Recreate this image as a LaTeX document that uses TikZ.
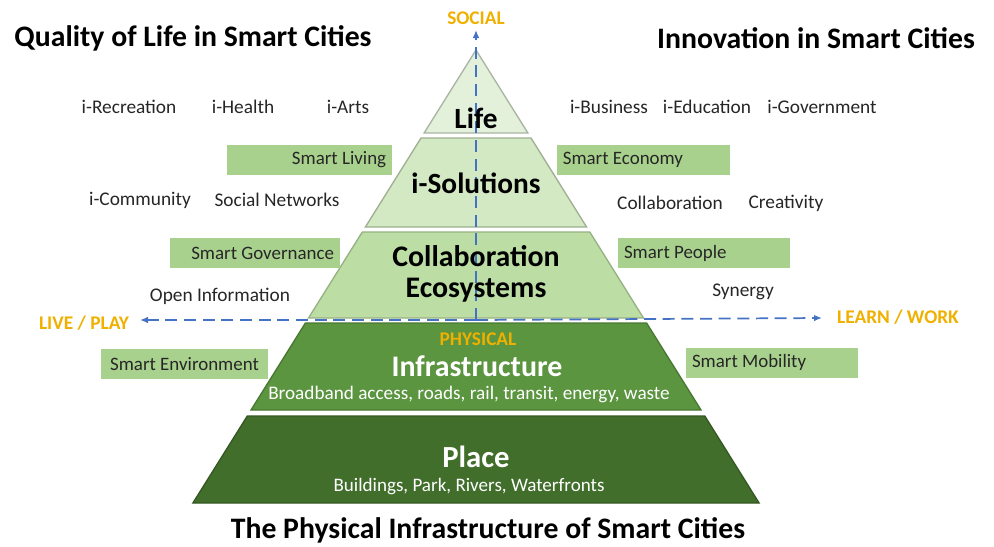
\documentclass[tikz,border=0pt]{standalone}
\usepackage{fontspec}
\setmainfont{Carlito}
\usetikzlibrary{arrows.meta}

\definecolor{lifegreen}{HTML}{E3F0DA}
\definecolor{solgreen}{HTML}{D3E9C3}
\definecolor{colgreen}{HTML}{BCDDA3}
\definecolor{infgreen}{HTML}{5B9540}
\definecolor{placegreen}{HTML}{426E2C}
\definecolor{boxgreen}{HTML}{A9D18E}
\definecolor{axisblue}{HTML}{4472C4}
\definecolor{dimyellow}{HTML}{EFB000}

\tikzset{
  sidebox/.style={fill=boxgreen, minimum height=22.5pt, inner xsep=4.5pt, inner ysep=0pt,
    font=\fontsize{14.2}{16}\selectfont, text=black!85},
  plain/.style={font=\fontsize{14.5}{16}\selectfont, text=black!85},
  heading/.style={font=\bfseries\fontsize{22.3}{26}\selectfont},
  dimlabel/.style={font=\bfseries\fontsize{14.5}{16}\selectfont, text=dimyellow},
  axis/.style={draw=axisblue, line width=1.3pt, dash pattern=on 9pt off 5pt,
    -{Latex[length=6pt,width=5pt]}}
}

\begin{document}
\begin{tikzpicture}[x=0.75pt,y=-0.75pt]
\useasboundingbox (0,0) rectangle (994,546);

% pyramid layers
\filldraw[fill=lifegreen,draw=black!25!lifegreen,line width=1pt] (476,50) -- (527.9,133) -- (424.1,133) -- cycle;
\filldraw[fill=solgreen,draw=black!25!solgreen,line width=1pt] (421.0,138) -- (531.0,138) -- (586.6,227) -- (365.4,227) -- cycle;
\filldraw[fill=colgreen,draw=black!20!colgreen,line width=1pt] (362.3,232) -- (589.8,232) -- (643.5,318) -- (308.5,318) -- cycle;
\filldraw[fill=infgreen,draw=black!20!infgreen,line width=1pt] (305.4,323) -- (646.6,323) -- (701.0,410) -- (251.0,410) -- cycle;
\filldraw[fill=placegreen,draw=black!20!placegreen,line width=1pt] (247.3,416) -- (704.8,416) -- (759.1,503) -- (192.9,503) -- cycle;

% axes
\coordinate (origin) at (476,320);
\coordinate (socialEnd) at (476,30);
\coordinate (liveEnd) at (140,320);
\coordinate (learnEnd) at (822,318);
\draw[axis] (origin) -- (socialEnd);
\draw[axis] (origin) -- (liveEnd);
\draw[axis] (origin) -- (learnEnd);

\node[dimlabel] (social) at (476,18) {SOCIAL};
\node[dimlabel] (live) at (84,323) {LIVE / PLAY};
\node[dimlabel] (learn) at (898,317) {LEARN / WORK};
\node[dimlabel] (physical) at (478,339) {PHYSICAL};

% layer texts
\node[font=\bfseries\fontsize{22}{24}\selectfont] (life) at (476,118) {Life};
\node[font=\bfseries\fontsize{22}{24}\selectfont] (isol) at (476,183) {i-Solutions};
\node[font=\bfseries\fontsize{22.4}{24}\selectfont, align=center] (collab) at (476,274) {Collaboration\\[-1pt]Ecosystems};
\node[font=\bfseries\fontsize{22.4}{26}\selectfont, text=white] (infra) at (477,366) {Infrastructure};
\node[font=\fontsize{14.4}{16}\selectfont, text=white] (infraSub) at (469,394) {Broadband access, roads, rail, transit, energy, waste};
\node[font=\bfseries\fontsize{23}{26}\selectfont, text=white] (place) at (476,457) {Place};
\node[font=\fontsize{14.3}{16}\selectfont, text=white] (placeSub) at (469,487) {Buildings, Park, Rivers, Waterfronts};

% headings
\node[heading] (quality) at (193,38) {Quality of Life in Smart Cities};
\node[heading] (innovation) at (816,38) {Innovation in Smart Cities};
\node[heading] (physinfra) at (488,530) {The Physical Infrastructure of Smart Cities};

% left side
\node[plain] (recreation) at (129,107) {i-Recreation};
\node[plain] (health) at (243,107) {i-Health};
\node[plain] (arts) at (348,107) {i-Arts};
\node[plain] (community) at (140,200) {i-Community};
\node[plain] (networks) at (277,200) {Social Networks};
\node[plain] (openinfo) at (220,296) {Open Information};
\node[sidebox, text width=115pt, align=flush right] (living) at (309.5,160) {Smart Living};
\node[sidebox, text width=118.5pt, align=flush right] (governance) at (255,253) {Smart Governance};
\node[sidebox, text width=116pt, align=flush center] (environment) at (184.5,364) {Smart Environment};

% right side
\node[plain] (business) at (609,107) {i-Business};
\node[plain] (education) at (707,107) {i-Education};
\node[plain] (government) at (822,107) {i-Government};
\node[plain] (collaboration) at (670,203) {Collaboration};
\node[plain] (creativity) at (786,203) {Creativity};
\node[plain] (synergy) at (743,292) {Synergy};
\node[sidebox, text width=121pt, align=flush left] (economy) at (643.5,160) {Smart Economy};
\node[sidebox, text width=120pt, align=flush left] (people) at (704,253) {Smart People};
\node[sidebox, text width=120pt, align=flush left] (mobility) at (772,362.5) {Smart Mobility};
\end{tikzpicture}
\end{document}
